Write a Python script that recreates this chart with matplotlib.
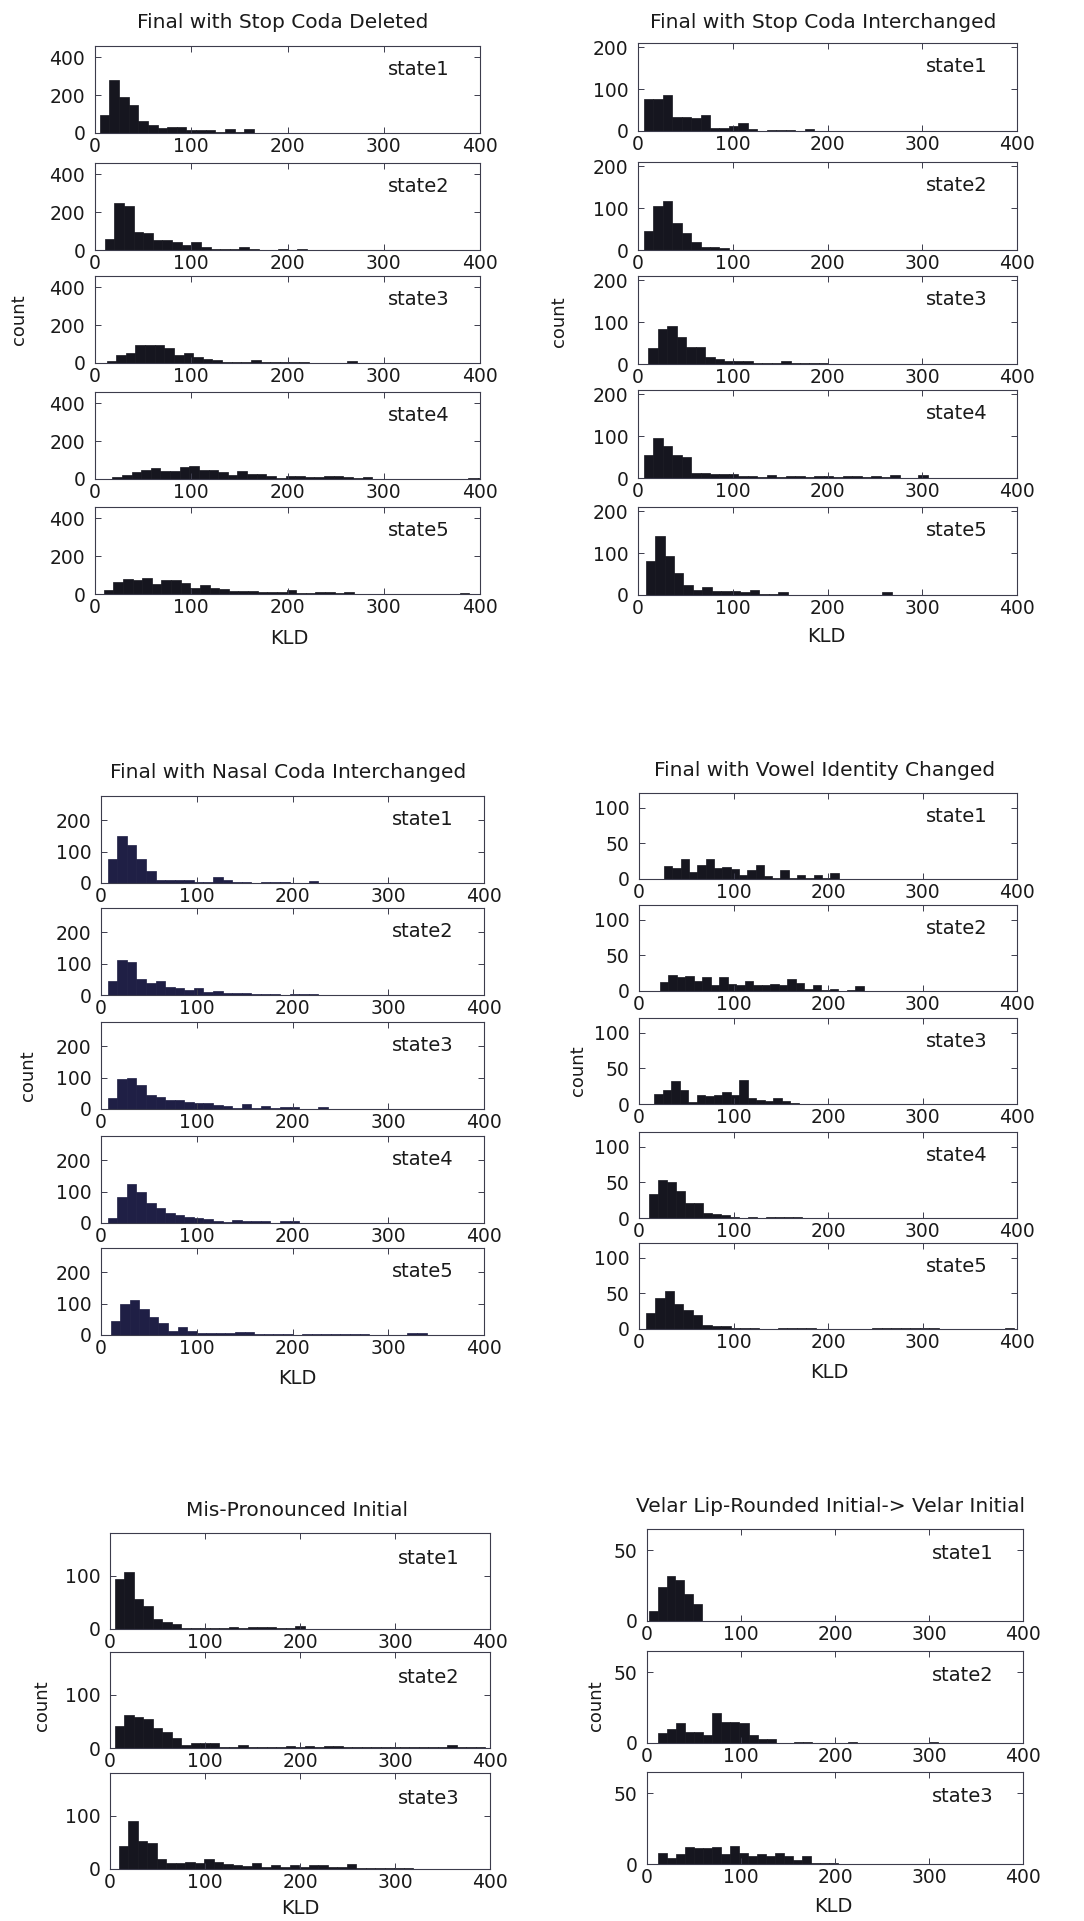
import matplotlib
matplotlib.use("Agg")
import matplotlib.pyplot as plt
import numpy as np

# ---------------- DATA ----------------
titles = ["Final with Stop Coda Deleted",
          "Final with Stop Coda Interchanged",
          "Final with Nasal Coda Interchanged",
          "Final with Vowel Identity Changed",
          "Mis-Pronounced Initial",
          "Velar Lip-Rounded Initial-> Velar Initial"]

x_ticks = [0, 100, 200, 300, 400]
y_ticks_g1 = [0, 200, 400]
y_ticks_g2 = [0, 100, 200]
y_ticks_g3 = [0, 100, 200]
y_ticks_g4 = [0, 50, 100]
y_ticks_g5 = [0, 100]
y_ticks_g6 = [0, 50]
y_max = [460, 210, 278, 121, 181, 65]

# (first bin edge, bin width) for every histogram, counts per bin
g1_bins = [(5, 10), (10, 10), (12, 10), (18, 10), (9, 10)]
g1_s1 = [97, 278, 191, 147, 62, 44, 27, 34, 34, 16, 16, 16, 5, 21, 5, 21]
g1_s2 = [58, 250, 232, 97, 88, 53, 53, 44, 27, 44, 14, 7, 7, 7, 14, 3, 1, 1, 5, 0, 5]
g1_s3 = [11, 44, 53, 94, 94, 94, 80, 44, 53, 32, 23, 18, 7, 7, 7, 16, 5, 5, 5, 5, 5,
         2, 2, 2, 2, 11]
g1_s4 = [9, 21, 35, 50, 58, 41, 41, 62, 67, 50, 50, 35, 23, 41, 25, 25, 16, 5, 16, 16,
         9, 9, 16, 16, 9, 4, 9, 2, 2, 2, 2, 2, 2, 2, 2, 2, 2, 4, 4]
g1_s5 = [21, 64, 78, 73, 82, 52, 73, 73, 56, 30, 47, 33, 26, 17, 17, 17, 9, 9, 9, 21,
         3, 3, 9, 9, 3, 12, 1, 1, 1, 1, 1, 1, 1, 1, 1, 1, 1, 5, 1]

g2_bins = [(6, 10), (6, 10), (11, 10), (6, 10), (8, 10)]
g2_s1 = [77, 77, 86, 34, 34, 30, 38, 8, 8, 12, 20, 4, 1, 3, 3, 3, 1, 4]
g2_s2 = [46, 105, 117, 64, 41, 18, 8, 8, 4]
g2_s3 = [37, 84, 90, 65, 41, 41, 16, 12, 8, 6, 6, 3, 3, 3, 7, 2, 2, 2, 2]
g2_s4 = [55, 96, 77, 55, 51, 12, 12, 9, 9, 9, 4, 4, 2, 6, 2, 5, 5, 2, 5, 5, 2, 4, 4,
         2, 5, 2, 6, 1, 1, 6]
g2_s5 = [80, 140, 94, 52, 24, 12, 18, 10, 10, 10, 6, 12, 2, 2, 6, 1, 1, 1, 1, 1, 1,
         1, 1, 1, 1, 8, 1, 1, 1, 1, 1]

g3_bins = [(7, 10), (7, 10), (7, 10), (7, 10), (10, 10)]
g3_s1 = [78, 150, 121, 78, 37, 11, 11, 11, 11, 3, 3, 19, 9, 3, 3, 1, 4, 4, 4, 1, 1, 5]
g3_s2 = [45, 112, 104, 50, 39, 46, 27, 21, 16, 21, 11, 13, 5, 7, 7, 2, 2, 2, 1, 3, 2, 2]
g3_s3 = [34, 95, 100, 76, 45, 37, 29, 29, 23, 20, 18, 13, 8, 4, 15, 4, 8, 2, 6, 6, 1,
         1, 6, 1, 1, 1, 1, 1, 1, 1, 1, 1, 1, 1, 1, 1, 1, 1, 1]
g3_s4 = [16, 82, 124, 98, 64, 47, 32, 24, 19, 16, 12, 7, 4, 8, 5, 5, 5, 1, 6, 6, 1, 1, 1]
g3_s5 = [45, 100, 112, 84, 59, 37, 14, 24, 14, 5, 5, 5, 5, 8, 8, 4, 4, 4, 4, 1, 4, 4,
         4, 4, 4, 4, 4, 1, 1, 1, 1, 7, 7, 1, 1, 1, 1, 1, 1]

g4_bins = [(26.5, 8.8), (22, 9), (16, 9), (10.6, 9.5), (7, 10)]
g4_s1 = [18, 15, 28, 10, 20, 28, 15, 17, 14, 6, 12, 19, 4, 1, 12, 2, 6, 1, 6, 1, 9]
g4_s2 = [12, 23, 20, 21, 14, 19, 8, 19, 10, 8, 14, 8, 9, 10, 9, 17, 11, 3, 8, 2, 3, 0, 2, 7]
g4_s3 = [14, 19, 33, 19, 3, 12, 11, 12, 17, 12, 34, 8, 6, 4, 8, 4, 2]
g4_s4 = [34, 54, 50, 38, 21, 21, 7, 6, 4, 2, 0, 1, 0, 1, 1, 1, 1]
g4_s5 = [22, 43, 53, 35, 27, 20, 5, 4, 4, 2, 2, 2, 0, 0, 2, 2, 1, 1,
         0, 0, 0, 0, 0, 0, 1, 1, 1, 1, 2, 2, 2, 0, 0, 0, 0, 0, 0, 0, 2]

g5_bins = [(5, 10), (5, 10), (9, 10)]
g5_s1 = [95, 108, 56, 44, 18, 13, 10, 2, 2, 2, 2, 1, 3, 1, 4, 4, 4, 2, 2, 6]
g5_s2 = [41, 63, 58, 55, 38, 30, 19, 6, 9, 9, 9, 2, 2, 6, 1, 1, 1, 1, 3, 2, 3, 2, 4, 4,
         1, 1, 1, 1, 1, 1, 1, 1, 1, 1, 1, 5, 1, 1, 1]
g5_s3 = [44, 91, 53, 49, 18, 11, 11, 14, 11, 19, 14, 9, 8, 6, 11, 4, 8, 4, 8, 4, 8, 8,
         4, 4, 9, 1, 1, 1, 1, 1, 1]

g6_bins = [(2, 9.4), (12, 9.6), (11.5, 9.6)]
g6_s1 = [7, 24, 32, 29, 19, 12]
g6_s2 = [7, 10, 14, 8, 8, 6, 21, 15, 15, 14, 6, 3, 3, 0, 0, 1, 1, 0, 0, 0, 0, 1,
         0, 0, 0, 0, 0, 0, 0, 0, 1]
g6_s3 = [8, 4, 7, 12, 11, 11, 12, 7, 13, 8, 6, 7, 6, 8, 6, 3, 6, 1, 1, 1]

groups_counts = [[g1_s1, g1_s2, g1_s3, g1_s4, g1_s5],
                 [g2_s1, g2_s2, g2_s3, g2_s4, g2_s5],
                 [g3_s1, g3_s2, g3_s3, g3_s4, g3_s5],
                 [g4_s1, g4_s2, g4_s3, g4_s4, g4_s5],
                 [g5_s1, g5_s2, g5_s3],
                 [g6_s1, g6_s2, g6_s3]]
groups_bins = [g1_bins, g2_bins, g3_bins, g4_bins, g5_bins, g6_bins]
groups_yticks = [y_ticks_g1, y_ticks_g2, y_ticks_g3, y_ticks_g4, y_ticks_g5, y_ticks_g6]

# ---------------- LAYOUT (pixels) ----------------
W, H = 1084, 1921
# left, right, list of tops, height
layout = [
    (95, 480, [46, 163, 276, 392, 507], 87),
    (638, 1017, [43, 162, 276, 390, 507], 88),
    (101, 484, [796, 908, 1022, 1136, 1248], 87),
    (639, 1017, [793, 905, 1018, 1132, 1243], 86),
    (110, 490, [1533, 1652, 1773], 96),
    (647, 1023, [1529, 1651, 1772], 92),
]
title_pos = [(283, 22), (823, 22), (288, 772), (825, 770), (297, 1510), (830, 1506)]
count_pos = [(19, 320), (559, 322), (28, 1076), (578, 1071), (42, 1706), (596, 1706)]
kld_pos = [(289, 638), (826, 637), (297, 1378), (829, 1372), (300, 1909), (833, 1906)]
bar_colors = ["#16161f", "#16161f", "#1f1f45", "#16161f", "#16161f", "#16161f"]

TXT = "#1a1a1a"
SPINE = "#3c3c4c"

plt.rcParams['font.family'] = ['DejaVu Sans']

fig = plt.figure(figsize=(W / 100, H / 100), dpi=100)
fig.patch.set_facecolor("white")


def px_rect(l, t, r, b):
    return [l / W, 1 - b / H, (r - l) / W, (b - t) / H]


for g in range(6):
    left, right, tops, hgt = layout[g]
    for s, counts in enumerate(groups_counts[g]):
        top = tops[s]
        ax = fig.add_axes(px_rect(left, top, right, top + hgt))
        start, width = groups_bins[g][s]
        edges = start + width * np.arange(len(counts))
        ax.bar(edges, counts, width=width, align="edge",
               color=bar_colors[g], edgecolor=bar_colors[g], linewidth=0.5)
        ax.set_xlim(0, 400)
        ax.set_ylim(0, y_max[g])
        ax.set_xticks(x_ticks)
        ax.set_yticks(groups_yticks[g])
        ax.tick_params(direction="in", top=True, right=True, length=4,
                       width=0.7, colors=SPINE, labelcolor=TXT, labelsize=13.5)
        ax.tick_params(axis="x", pad=3)
        ax.tick_params(axis="y", pad=7)
        for sp in ax.spines.values():
            sp.set_color(SPINE)
            sp.set_linewidth(0.8)
        ax.text(0.84, 0.73, f"state{s + 1}", transform=ax.transAxes,
                ha="center", va="center", fontsize=14, color=TXT)

    tx, ty = title_pos[g]
    fig.text(tx / W, 1 - ty / H, titles[g], ha="center", va="center",
             fontsize=14.5, color=TXT)
    cx, cy = count_pos[g]
    fig.text(cx / W, 1 - cy / H, "count", rotation=90, ha="center",
             va="center", fontsize=13, color=TXT)
    kx, ky = kld_pos[g]
    fig.text(kx / W, 1 - ky / H, "KLD", ha="center", va="center",
             fontsize=14, color=TXT)

fig.savefig("out.png", dpi=100, facecolor="white")
